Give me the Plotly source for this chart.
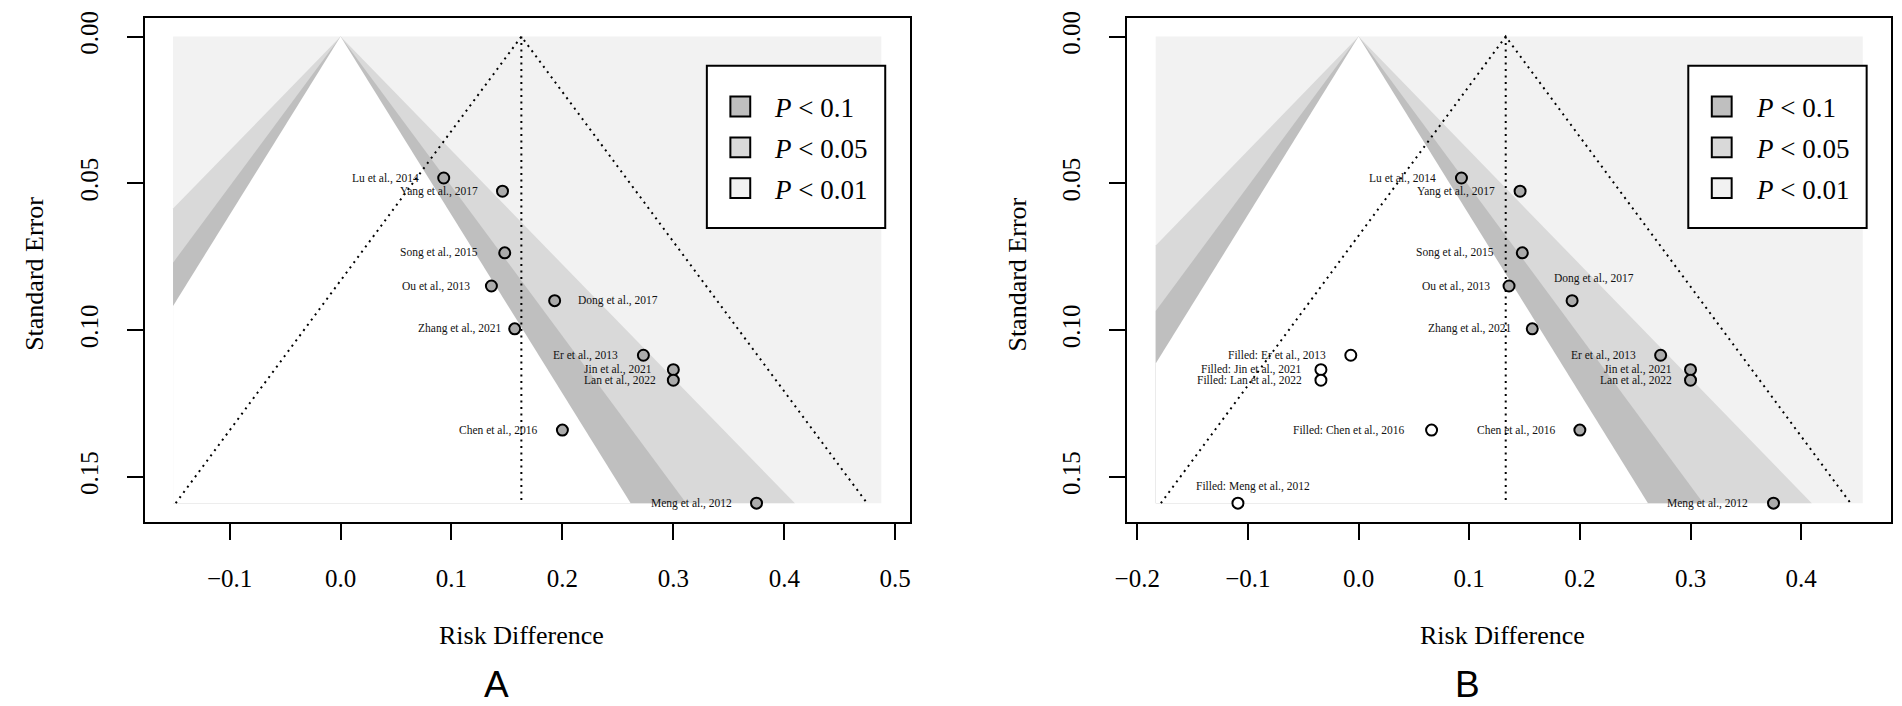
import plotly.graph_objects as go

# ---------------- data ----------------
studies = ["Lu et al., 2014", "Yang et al., 2017", "Song et al., 2015", "Ou et al., 2013",
           "Dong et al., 2017", "Zhang et al., 2021", "Er et al., 2013", "Jin et al., 2021",
           "Lan et al., 2022", "Chen et al., 2016", "Meng et al., 2012"]
risk_diff = [0.093, 0.146, 0.148, 0.136, 0.193, 0.157, 0.273, 0.300, 0.300, 0.200, 0.375]
std_err = [0.0482, 0.0527, 0.0737, 0.0850, 0.0900, 0.0996, 0.1086, 0.1135, 0.1171, 0.1341, 0.1590]

filled_studies = ["Filled: Er et al., 2013", "Filled: Jin et al., 2021", "Filled: Lan et al., 2022",
                  "Filled: Chen et al., 2016", "Filled: Meng et al., 2012"]
filled_rd = [-0.007, -0.034, -0.034, 0.066, -0.109]
filled_se = [0.1086, 0.1135, 0.1171, 0.1341, 0.1590]

estimate_a = 0.163
estimate_b = 0.133
xlim_a = [-0.151, 0.4875]
xlim_b = [-0.1833, 0.4557]
se_max = 0.159
contour_z = [2.576, 1.96, 1.645]          # 99%, 95%, 90% contours
ci_z = 1.96
x_ticks_a = [-0.1, 0.0, 0.1, 0.2, 0.3, 0.4, 0.5]
x_ticks_b = [-0.2, -0.1, 0.0, 0.1, 0.2, 0.3, 0.4]
y_ticks = [0.00, 0.05, 0.10, 0.15]
legend_labels = ["<i>P</i> < 0.1", "<i>P</i> < 0.05", "<i>P</i> < 0.01"]
x_title = "Risk Difference"
y_title = "Standard Error"
panel_letters = ["A", "B"]

# ---------------- style ----------------
W, H = 1902, 706
SERIF = "Liberation Serif"
SANS = "Liberation Sans"
BG_COLOR = "#F2F2F2"
CONTOUR_COLORS = ["#D9D9D9", "#BFBFBF", "#FFFFFF"]
LEGEND_COLORS = ["#BFBFBF", "#D9D9D9", "#F2F2F2"]
POINT_FILL = "#ABABAB"

# label placement (side, gap px / offsets)
labels_a = {"Dong et al., 2017": ("right", 21), "Zhang et al., 2021": ("left", 11),
            "Lan et al., 2022": ("left", 15), "Ou et al., 2013": ("left", 19),
            "Jin et al., 2021": ("left", 19), "Song et al., 2015": ("left", 25)}
labels_b = {"Dong et al., 2017": ("above", (22, -22)), "Zhang et al., 2021": ("left", 18),
            "Ou et al., 2013": ("left", 17), "Jin et al., 2021": ("left", 17),
            "Lan et al., 2022": ("left", 17), "Song et al., 2015": ("left", 26),
            "Filled: Jin et al., 2021": ("left", 17), "Filled: Lan et al., 2022": ("left", 17),
            "Filled: Chen et al., 2016": ("left", 26),
            "Filled: Meng et al., 2012": ("above", (15, -17))}
DEFAULT_GAP = 23

box_top, box_bottom = 11, 520
panels = [
    dict(left=132.7, right=903.3, est=estimate_a, xlim=xlim_a, ticks=x_ticks_a, lab=labels_a,
         filled=False, xtitle_x=512, letter_x=487, ytitle_x=21.7),
    dict(left=1122.7, right=1892.0, est=estimate_b, xlim=xlim_b, ticks=x_ticks_b, lab=labels_b,
         filled=True, xtitle_x=1501, letter_x=1465, ytitle_x=1011.7),
]


def px(x):
    return x / W


def py(y):
    return 1 - y / H


def clip_x(poly, xmin, xmax):
    def clip(pts, inside, xc):
        out = []
        for i in range(len(pts)):
            cur, prev = pts[i], pts[i - 1]
            def inter(p, q):
                return (xc, p[1] + (q[1] - p[1]) * (xc - p[0]) / (q[0] - p[0]))
            if inside(cur):
                if not inside(prev):
                    out.append(inter(prev, cur))
                out.append(cur)
            elif inside(prev):
                out.append(inter(prev, cur))
        return out
    pts = clip(poly, lambda p: p[0] >= xmin, xmin)
    pts = clip(pts, lambda p: p[0] <= xmax, xmax)
    return pts


fig = go.Figure()
annotations = []
shapes = []

for k, P in enumerate(panels):
    xa = "x" if k == 0 else "x2"
    ya = "y" if k == 0 else "y2"
    xmin, xmax = P["xlim"]

    # background (P < 0.01 region)
    fig.add_trace(go.Scatter(x=[xmin, xmax, xmax, xmin, xmin], y=[0, 0, se_max, se_max, 0],
                             fill="toself", fillcolor=BG_COLOR, mode="lines", line=dict(width=0),
                             hoverinfo="skip", showlegend=False, xaxis=xa, yaxis=ya))
    # contour triangles
    for z, col in zip(contour_z, CONTOUR_COLORS):
        tri = [(0.0, 0.0), (z * se_max, se_max), (-z * se_max, se_max)]
        pts = clip_x(tri, xmin, xmax)
        xs = [p[0] for p in pts] + [pts[0][0]]
        ys = [p[1] for p in pts] + [pts[0][1]]
        fig.add_trace(go.Scatter(x=xs, y=ys, fill="toself", fillcolor=col, mode="lines",
                                 line=dict(width=0), hoverinfo="skip", showlegend=False,
                                 xaxis=xa, yaxis=ya))
    # dotted reference lines
    est = P["est"]
    dot = dict(color="black", width=2, dash="2px,4.5px")
    fig.add_trace(go.Scatter(x=[est, est], y=[0, se_max], mode="lines", line=dot,
                             hoverinfo="skip", showlegend=False, xaxis=xa, yaxis=ya))
    fig.add_trace(go.Scatter(x=[est - ci_z * se_max, est, est + ci_z * se_max], y=[se_max, 0, se_max],
                             mode="lines", line=dot, hoverinfo="skip", showlegend=False,
                             xaxis=xa, yaxis=ya))
    # points
    fig.add_trace(go.Scatter(x=risk_diff, y=std_err, mode="markers",
                             marker=dict(size=11, color=POINT_FILL, line=dict(color="black", width=2)),
                             showlegend=False, xaxis=xa, yaxis=ya))
    pts_all = list(zip(studies, risk_diff, std_err))
    if P["filled"]:
        fig.add_trace(go.Scatter(x=filled_rd, y=filled_se, mode="markers",
                                 marker=dict(size=11, color="white", line=dict(color="black", width=2)),
                                 showlegend=False, xaxis=xa, yaxis=ya))
        pts_all += list(zip(filled_studies, filled_rd, filled_se))

    # study labels
    for name, xv, yv in pts_all:
        side, val = P["lab"].get(name, ("left", DEFAULT_GAP))
        a = dict(x=xv, y=yv, xref=xa, yref=ya, text=name, showarrow=False,
                 font=dict(family=SERIF, size=11.5, color="#111111"))
        if side == "left":
            a.update(xanchor="right", yanchor="middle", xshift=-val)
        elif side == "right":
            a.update(xanchor="left", yanchor="middle", xshift=val)
        else:
            a.update(xanchor="center", yanchor="middle", xshift=val[0], yshift=-val[1])
        annotations.append(a)

    # legend
    lx0, lx1 = P["right"] - 204.3, P["right"] - 24.6
    ly0, ly1 = 59.3, 223.3
    shapes.append(dict(type="rect", xref="paper", yref="paper", x0=px(lx0), x1=px(lx1),
                       y0=py(ly1), y1=py(ly0), line=dict(color="black", width=2),
                       fillcolor="white", layer="above"))
    for i, (lab, col) in enumerate(zip(legend_labels, LEGEND_COLORS)):
        cy = 100.5 + i * 41.2
        cx = lx0 + 33.7
        shapes.append(dict(type="rect", xref="paper", yref="paper", x0=px(cx - 10), x1=px(cx + 10),
                           y0=py(cy + 10), y1=py(cy - 10), line=dict(color="black", width=2),
                           fillcolor=col, layer="above"))
        annotations.append(dict(x=px(lx0 + 66), y=py(cy + 2), xref="paper", yref="paper", text=lab,
                                showarrow=False, xanchor="left", yanchor="middle",
                                font=dict(family=SERIF, size=27, color="black")))

    # axis titles and panel letters
    annotations.append(dict(x=px(P["xtitle_x"]), y=py(635), xref="paper", yref="paper", text=x_title,
                            showarrow=False, xanchor="center", yanchor="middle",
                            font=dict(family=SERIF, size=26, color="black")))
    annotations.append(dict(x=px(P["ytitle_x"]), y=py(270), xref="paper", yref="paper", text=y_title,
                            showarrow=False, xanchor="center", yanchor="middle", textangle=-90,
                            font=dict(family=SERIF, size=26, color="black")))
    annotations.append(dict(x=px(P["letter_x"]), y=0, xref="paper", yref="paper",
                            text=panel_letters[k], showarrow=False, xanchor="center", yanchor="bottom",
                            borderpad=0, font=dict(family=SANS, size=37, color="black")))

    # axes
    w = xmax - xmin
    axis_common = dict(showgrid=False, zeroline=False, showline=True, mirror=True, linecolor="black",
                       linewidth=2, ticks="outside", ticklen=16, tickwidth=2, tickcolor="black",
                       tickfont=dict(family=SERIF, size=25, color="black"))
    xkey = "xaxis" if k == 0 else "xaxis2"
    ykey = "yaxis" if k == 0 else "yaxis2"
    fig.update_layout(**{
        xkey: dict(domain=[px(P["left"]), px(P["right"])], range=[xmin - 0.04 * w, xmax + 0.04 * w],
                   tickvals=P["ticks"], tickformat=".1f", anchor=ya, ticklabelstandoff=17,
                   **axis_common),
        ykey: dict(domain=[py(box_bottom), py(box_top)],
                   range=[se_max * 1.04, -0.04 * se_max], tickvals=y_ticks, tickformat=".2f",
                   tickangle=-90, anchor=xa, ticklabelstandoff=19, **axis_common),
    })

fig.update_layout(width=W, height=H, margin=dict(l=0, r=0, t=0, b=0),
                  paper_bgcolor="white", plot_bgcolor="white",
                  annotations=annotations, shapes=shapes, showlegend=False)

fig.write_html("out.html", config={"displayModeBar": False},
               post_script="document.body.style.margin='0';document.body.style.overflow='hidden';")
